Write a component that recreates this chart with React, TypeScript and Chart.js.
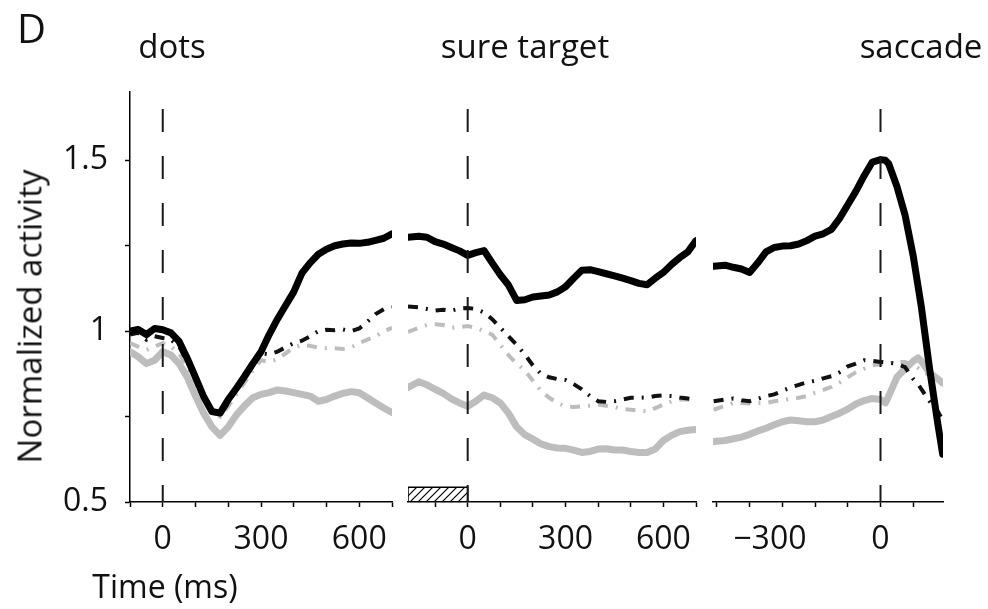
import React, { useEffect, useRef } from 'react';
import { Chart, registerables } from 'chart.js';

Chart.register(...registerables);

// ---------- data ----------
const Y_MIN = 0.5;
const Y_MAX = 1.7;
const Y_TICKS = [0.5, 0.75, 1, 1.25, 1.5];
const Y_TICK_LABELS = ['0.5', '', '1', '', '1.5'];
const ZERO_LINE = [1.65, 0.5];

// panel 1: aligned to dots onset
const DOTS_RANGE = [-100, 700];
const DOTS_TICKS = [-100, 0, 100, 200, 300, 400, 500, 600, 700];
const DOTS_TICK_LABELS = ['', '0', '', '', '300', '', '', '600', ''];
const DOTS_TIMES = [-100, -75, -50, -25, 0, 25, 50, 75, 100, 125, 150, 175, 200, 225, 250, 275, 300, 325, 350, 375, 400, 425, 450, 475, 500, 525, 550, 575, 600, 625, 650, 675, 700];
const DOTS_BLACK = [1.0, 1.005, 0.99, 1.008, 1.004, 0.995, 0.97, 0.92, 0.865, 0.808, 0.765, 0.76, 0.8, 0.833, 0.868, 0.905, 0.94, 0.99, 1.035, 1.075, 1.115, 1.17, 1.2, 1.225, 1.24, 1.25, 1.255, 1.258, 1.257, 1.26, 1.266, 1.272, 1.285];
const DOTS_BLACK_DD = [0.99, 0.995, 0.975, 0.985, 0.98, 0.975, 0.955, 0.91, 0.86, 0.805, 0.77, 0.755, 0.79, 0.83, 0.865, 0.9, 0.935, 0.932, 0.94, 0.953, 0.965, 0.972, 0.985, 1.0, 1.004, 1.003, 1.005, 1.0, 1.008, 1.028, 1.05, 1.064, 1.07];
const DOTS_GRAY_DD = [0.965, 0.955, 0.945, 0.955, 0.965, 0.955, 0.935, 0.895, 0.85, 0.8, 0.765, 0.75, 0.78, 0.815, 0.85, 0.885, 0.915, 0.91, 0.918, 0.935, 0.952, 0.96, 0.957, 0.952, 0.95, 0.95, 0.948, 0.952, 0.965, 0.975, 0.985, 1.0, 1.01];
const DOTS_GRAY = [0.94, 0.925, 0.905, 0.915, 0.94, 0.93, 0.905, 0.865, 0.81, 0.76, 0.72, 0.695, 0.72, 0.755, 0.782, 0.805, 0.815, 0.82, 0.828, 0.825, 0.82, 0.815, 0.81, 0.795, 0.8, 0.81, 0.818, 0.823, 0.82, 0.805, 0.79, 0.775, 0.762];

// panel 2: aligned to sure-target onset
const TARGET_RANGE = [-183, 700];
const TARGET_TICKS = [-100, 0, 100, 200, 300, 400, 500, 600, 700];
const TARGET_TICK_LABELS = ['', '0', '', '', '300', '', '', '600', ''];
const TARGET_BAR = [-183, 0, 0.5, 0.543];
const TARGET_TIMES = [-183, -150, -125, -100, -75, -50, -25, 0, 25, 50, 75, 100, 125, 150, 175, 200, 225, 250, 275, 300, 325, 350, 375, 400, 425, 450, 475, 500, 525, 550, 575, 600, 625, 650, 675, 700];
const TARGET_BLACK = [1.275, 1.278, 1.275, 1.262, 1.255, 1.245, 1.235, 1.222, 1.23, 1.236, 1.2, 1.165, 1.135, 1.09, 1.092, 1.1, 1.103, 1.106, 1.115, 1.13, 1.155, 1.178, 1.18, 1.174, 1.168, 1.162, 1.155, 1.148, 1.14, 1.136, 1.155, 1.172, 1.195, 1.215, 1.232, 1.265];
const TARGET_BLACK_DD = [1.072, 1.07, 1.065, 1.06, 1.063, 1.06, 1.066, 1.068, 1.065, 1.055, 1.035, 1.01, 0.985, 0.96, 0.932, 0.9, 0.875, 0.865, 0.86, 0.857, 0.845, 0.83, 0.81, 0.795, 0.793, 0.795, 0.8, 0.805, 0.805, 0.806, 0.81, 0.812, 0.81, 0.806, 0.803, 0.8];
const TARGET_GRAY_DD = [0.998, 1.01, 1.018, 1.02, 1.018, 1.01, 1.012, 1.015, 1.01, 1.0, 0.99, 0.96, 0.93, 0.905, 0.885, 0.855, 0.825, 0.805, 0.79, 0.78, 0.778, 0.78, 0.782, 0.785, 0.782, 0.778, 0.772, 0.77, 0.768, 0.765, 0.775, 0.785, 0.795, 0.8, 0.8, 0.8];
const TARGET_GRAY = [0.835, 0.852, 0.843, 0.83, 0.818, 0.802, 0.79, 0.78, 0.795, 0.813, 0.805, 0.79, 0.76, 0.72, 0.697, 0.684, 0.67, 0.662, 0.658, 0.657, 0.652, 0.645, 0.648, 0.655, 0.656, 0.652, 0.652, 0.648, 0.645, 0.645, 0.655, 0.68, 0.695, 0.706, 0.71, 0.712];

// panel 3: aligned to saccade onset
const SACCADE_RANGE = [-512, 191];
const SACCADE_TICKS = [-500, -400, -300, -200, -100, 0, 100];
const SACCADE_TICK_LABELS = ['', '', '\u2212300   ', '', '', '0', ''];
const SACCADE_TIMES = [-510, -475, -450, -425, -400, -375, -350, -325, -300, -275, -250, -225, -200, -175, -150, -125, -100, -75, -50, -25, 0, 15, 25, 50, 75, 100, 115, 125, 150, 175, 190];
const SACCADE_BLACK = [1.19, 1.193, 1.187, 1.182, 1.172, 1.2, 1.232, 1.245, 1.249, 1.25, 1.255, 1.265, 1.278, 1.285, 1.298, 1.33, 1.37, 1.41, 1.455, 1.495, 1.502, 1.5, 1.49, 1.424, 1.34, 1.22, 1.13, 1.07, 0.89, 0.73, 0.64];
const SACCADE_BLACK_DD = [0.795, 0.8, 0.803, 0.798, 0.795, 0.802, 0.81, 0.815, 0.825, 0.835, 0.843, 0.85, 0.855, 0.862, 0.868, 0.88, 0.897, 0.905, 0.915, 0.913, 0.91, 0.909, 0.908, 0.905, 0.895, 0.86, 0.845, 0.83, 0.795, 0.765, 0.74];
const SACCADE_GRAY_DD = [0.77, 0.782, 0.79, 0.79, 0.788, 0.79, 0.79, 0.795, 0.798, 0.802, 0.805, 0.81, 0.82, 0.828, 0.837, 0.85, 0.865, 0.88, 0.89, 0.9, 0.903, 0.905, 0.906, 0.91, 0.91, 0.9, 0.892, 0.885, 0.87, 0.858, 0.85];
const SACCADE_GRAY = [0.677, 0.68, 0.685, 0.69, 0.698, 0.708, 0.716, 0.726, 0.735, 0.74, 0.738, 0.735, 0.735, 0.74, 0.75, 0.76, 0.772, 0.787, 0.797, 0.803, 0.8, 0.79, 0.81, 0.865, 0.89, 0.912, 0.922, 0.912, 0.878, 0.86, 0.848];

// ---------- styling ----------
const FONT = "'Open Sans', 'Noto Sans', sans-serif";
const TICK_FONT = { family: FONT, size: 32 };
const BLACK = '#000000';
const GRAY = '#bdbdbd';
const DASH_DOT = [10, 8, 2, 8];

function pts(times: number[], vals: number[]) {
  return times.map((t, i) => ({ x: t, y: vals[i] }));
}

function hatchPattern(): CanvasPattern | string {
  const c = document.createElement('canvas');
  c.width = 8;
  c.height = 8;
  const g = c.getContext('2d');
  if (!g) return 'rgba(0,0,0,0.3)';
  g.strokeStyle = '#000';
  g.lineWidth = 1.2;
  g.beginPath();
  g.moveTo(0, 8); g.lineTo(8, 0);
  g.moveTo(-2, 2); g.lineTo(2, -2);
  g.moveTo(6, 10); g.lineTo(10, 6);
  g.stroke();
  return g.createPattern(c, 'repeat') || 'rgba(0,0,0,0.3)';
}

type PanelSpec = {
  range: number[];
  ticks: number[];
  tickLabels: string[];
  times: number[];
  black: number[];
  blackDD: number[];
  grayDD: number[];
  gray: number[];
  padding: { left: number; right: number; top: number; bottom: number };
  showY: boolean;
  bar?: number[];
};

function makeConfig(p: PanelSpec): any {
  const datasets: any[] = [
    {
      data: [{ x: 0, y: ZERO_LINE[0] }, { x: 0, y: ZERO_LINE[1] }],
      borderColor: '#1a1a1a', borderWidth: 2, borderDash: [23, 24], pointRadius: 0,
    },
    {
      data: pts(p.times, p.black), borderColor: BLACK, borderWidth: 7, pointRadius: 0,
      borderJoinStyle: 'round', borderCapStyle: 'round',
    },
    {
      data: pts(p.times, p.blackDD), borderColor: '#111111', borderWidth: 4, pointRadius: 0,
      borderDash: DASH_DOT,
    },
    {
      data: pts(p.times, p.grayDD), borderColor: GRAY, borderWidth: 4, pointRadius: 0,
      borderDash: DASH_DOT,
    },
    {
      data: pts(p.times, p.gray), borderColor: GRAY, borderWidth: 7, pointRadius: 0,
      borderJoinStyle: 'round', borderCapStyle: 'round',
    },
  ];
  if (p.bar) {
    const [x0, x1, y0, y1] = p.bar;
    datasets.push({
      data: [{ x: x0, y: y0 }, { x: x0, y: y1 }, { x: x1, y: y1 }, { x: x1, y: y0 }],
      borderColor: '#000', borderWidth: 1.5, pointRadius: 0,
      fill: { value: y0 }, backgroundColor: hatchPattern(),
    });
  }
  const tickVals = p.ticks;
  const tickLabels = p.tickLabels;
  const showY = p.showY;
  return {
    type: 'line',
    data: { datasets },
    options: {
      animation: false,
      responsive: false,
      maintainAspectRatio: false,
      layout: { padding: p.padding },
      plugins: { legend: { display: false }, tooltip: { enabled: false }, title: { display: false } },
      scales: {
        x: {
          type: 'linear',
          min: p.range[0],
          max: p.range[1],
          afterFit: (s: any) => { s.height = 60; },
          afterBuildTicks: (s: any) => { s.ticks = tickVals.map((v) => ({ value: v })); },
          grid: { drawOnChartArea: false, drawTicks: true, tickLength: 5, color: '#000', tickWidth: 1.5 },
          border: { display: true, color: '#000', width: 1.5 },
          ticks: {
            autoSkip: false, maxRotation: 0, minRotation: 0, padding: 14, color: '#111', font: TICK_FONT,
            callback: (v: any) => { const i = tickVals.indexOf(Number(v)); return i >= 0 ? tickLabels[i] : ''; },
          },
        },
        y: {
          type: 'linear',
          display: showY,
          min: Y_MIN,
          max: Y_MAX,
          afterFit: (s: any) => { s.width = showY ? 130 : 0; },
          afterBuildTicks: (s: any) => { s.ticks = Y_TICKS.map((v) => ({ value: v })); },
          grid: { drawOnChartArea: false, drawTicks: true, tickLength: 5, color: '#000', tickWidth: 1.5 },
          border: { display: true, color: '#000', width: 1.5 },
          ticks: {
            padding: 17, color: '#111', font: TICK_FONT,
            callback: (v: any) => { const i = Y_TICKS.indexOf(Number(v)); return i >= 0 ? Y_TICK_LABELS[i] : ''; },
          },
        },
      },
    },
  };
}

const PANELS: PanelSpec[] = [
  {
    range: DOTS_RANGE, ticks: DOTS_TICKS, tickLabels: DOTS_TICK_LABELS, times: DOTS_TIMES,
    black: DOTS_BLACK, blackDD: DOTS_BLACK_DD, grayDD: DOTS_GRAY_DD, gray: DOTS_GRAY,
    padding: { left: 0, right: 596, top: 92, bottom: 47 }, showY: true,
  },
  {
    range: TARGET_RANGE, ticks: TARGET_TICKS, tickLabels: TARGET_TICK_LABELS, times: TARGET_TIMES,
    black: TARGET_BLACK, blackDD: TARGET_BLACK_DD, grayDD: TARGET_GRAY_DD, gray: TARGET_GRAY,
    padding: { left: 408, right: 292, top: 92, bottom: 47 }, showY: false, bar: TARGET_BAR,
  },
  {
    range: SACCADE_RANGE, ticks: SACCADE_TICKS, tickLabels: SACCADE_TICK_LABELS, times: SACCADE_TIMES,
    black: SACCADE_BLACK, blackDD: SACCADE_BLACK_DD, grayDD: SACCADE_GRAY_DD, gray: SACCADE_GRAY,
    padding: { left: 713, right: 45, top: 92, bottom: 47 }, showY: false,
  },
];

const W = 988;
const H = 609;

function Panel({ spec }: { spec: PanelSpec }) {
  const ref = useRef<HTMLCanvasElement | null>(null);
  useEffect(() => {
    if (!ref.current) return;
    const chart = new Chart(ref.current, makeConfig(spec));
    return () => chart.destroy();
  }, [spec]);
  return (
    <canvas
      ref={ref}
      width={W}
      height={H}
      style={{ position: 'absolute', left: 0, top: 0, width: W, height: H }}
    />
  );
}

const textBase: React.CSSProperties = {
  position: 'absolute',
  fontFamily: FONT,
  fontSize: 33,
  lineHeight: '33px',
  height: 33,
  color: '#111',
  whiteSpace: 'nowrap',
  textAlign: 'center',
  width: 300,
};

function Label({ text, cx, top, size }: { text: string; cx: number; top: number; size?: number }) {
  return <div style={{ ...textBase, left: cx - 150, top, fontSize: size || 33 }}>{text}</div>;
}

export default function App() {
  return (
    <div style={{ position: 'absolute', left: 0, top: 0, width: W, height: H, background: '#fff', overflow: 'hidden' }}>
      {PANELS.map((p, i) => <Panel key={i} spec={p} />)}
      <div style={{ ...textBase, left: 17, top: 8, width: 50, height: 40, lineHeight: '40px', fontSize: 40, textAlign: 'left' }}>D</div>
      <Label text="dots" cx={172} top={29} />
      <Label text="sure target" cx={525} top={29} />
      <Label text="saccade" cx={921} top={29} />
      <Label text="Time (ms)" cx={165} top={569} size={32} />
      <div
        style={{
          ...textBase,
          width: 400,
          left: 29 - 200,
          top: 316 - 16.5,
          transform: 'rotate(-90deg)',
          transformOrigin: 'center center',
        }}
      >
        Normalized activity
      </div>
    </div>
  );
}
